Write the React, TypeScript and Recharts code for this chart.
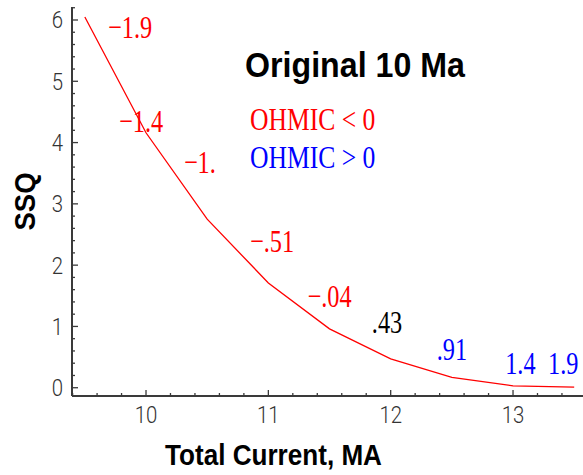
import React from "react";
import { ComposedChart, Line, Scatter, XAxis, YAxis } from "recharts";

// SSQ vs total current (every 0.5 MA)
const CURRENT = [9.5, 10, 10.5, 11, 11.5, 12, 12.5, 13, 13.5];
const SSQ = [6.05, 4.16, 2.75, 1.71, 0.96, 0.47, 0.17, 0.03, 0.01];

// OHMIC value annotations
const NOTE_TEXT = ["−1.9", "−1.4", "−1.", "−.51", "−.04", ".43", ".91", "1.4", "1.9"];
const NOTE_X = [9.87, 9.96, 10.44, 11.03, 11.5, 11.97, 12.5, 13.06, 13.41];
const NOTE_Y = [5.71, 4.18, 3.51, 2.22, 1.32, 0.9, 0.45, 0.22, 0.22];
const NOTE_COLOR = ["#ff0000", "#ff0000", "#ff0000", "#ff0000", "#ff0000", "#000000", "#0000ff", "#0000ff", "#0000ff"];

const X_TICKS = [9.4, 9.6, 9.8, 10, 10.2, 10.4, 10.6, 10.8, 11, 11.2, 11.4, 11.6, 11.8, 12, 12.2, 12.4, 12.6, 12.8, 13, 13.2, 13.4];
const Y_TICKS = [0, 0.2, 0.4, 0.6, 0.8, 1, 1.2, 1.4, 1.6, 1.8, 2, 2.2, 2.4, 2.6, 2.8, 3, 3.2, 3.4, 3.6, 3.8, 4, 4.2, 4.4, 4.6, 4.8, 5, 5.2, 5.4, 5.6, 5.8, 6, 6.2];

const curve = CURRENT.map((x, i) => ({ x, y: SSQ[i] }));
const notes = NOTE_TEXT.map((text, i) => ({ x: NOTE_X[i], y: NOTE_Y[i], text, color: NOTE_COLOR[i] }));

const AXIS = "#3a3a3a";
const TICK_FONT = "Roboto, 'Liberation Sans', sans-serif";
const SERIF = "'Liberation Serif', 'Times New Roman', serif";
const BOLD = "'Liberation Sans', Arial, sans-serif";

const isMajor = (v: number) => Math.abs(v - Math.round(v)) < 1e-6;

function BottomTick(props: any) {
  const { x, y, payload } = props;
  const major = isMajor(payload.value);
  return (
    <g>
      <line x1={x} y1={y} x2={x} y2={y - (major ? 6 : 3)} stroke={AXIS} strokeWidth={1.3} />
      {major && (
        <text transform={`translate(${x},${y + 27}) scale(0.85,1)`} textAnchor="middle"
          fontFamily={TICK_FONT} fontWeight={300} fontSize={24} fill="#333">{payload.value}</text>
      )}
    </g>
  );
}

function TopTick(props: any) {
  const { x, y, payload } = props;
  const major = isMajor(payload.value);
  return <line x1={x} y1={y} x2={x} y2={y + (major ? 6 : 3)} stroke={AXIS} strokeWidth={1.3} />;
}

function LeftTick(props: any) {
  const { x, y, payload } = props;
  const major = isMajor(payload.value);
  return (
    <g>
      <line x1={x} y1={y} x2={x + (major ? 6 : 3)} y2={y} stroke={AXIS} strokeWidth={1.3} />
      {major && (
        <text transform={`translate(${x - 9},${y + 8.5}) scale(0.85,1)`} textAnchor="end"
          fontFamily={TICK_FONT} fontWeight={300} fontSize={24} fill="#333">{payload.value}</text>
      )}
    </g>
  );
}

function NoteShape(props: any) {
  const { cx, cy } = props;
  const p = props.payload || props;
  return (
    <text transform={`translate(${cx},${cy}) scale(0.76,1)`} textAnchor="middle"
      fontFamily={SERIF} fontSize={32} fill={p.color}>{p.text}</text>
  );
}

export default function App() {
  return (
    <div style={{ position: "fixed", left: 0, top: 0, width: 583, height: 475, background: "#fff", overflow: "hidden" }}>
      <ComposedChart width={583} height={475} margin={{ top: 7, right: 0, bottom: 0, left: 0 }}>
        <XAxis xAxisId="b" dataKey="x" type="number" orientation="bottom" domain={[9.395, 13.572]} allowDataOverflow
          ticks={X_TICKS} interval={0} height={79} tickSize={0} tickMargin={0} tickLine={false}
          axisLine={{ stroke: AXIS, strokeWidth: 2 }} tick={<BottomTick />} />
        <XAxis xAxisId="t" dataKey="x" type="number" orientation="top" domain={[9.395, 13.572]} allowDataOverflow
          ticks={X_TICKS} interval={0} height={0} tickSize={0} tickMargin={0} tickLine={false}
          axisLine={{ stroke: AXIS, strokeWidth: 2 }} tick={<TopTick />} />
        <YAxis yAxisId="l" dataKey="y" type="number" domain={[-0.135, 6.212]} allowDataOverflow
          ticks={Y_TICKS} interval={0} width={72} tickSize={0} tickMargin={0} tickLine={false}
          axisLine={{ stroke: AXIS, strokeWidth: 2 }} tick={<LeftTick />} />
        <Line xAxisId="b" yAxisId="l" data={curve} dataKey="y" type="linear" stroke="#ff0000" strokeWidth={1.3}
          dot={false} isAnimationActive={false} />
        <Scatter xAxisId="b" yAxisId="l" data={notes} dataKey="y" shape={<NoteShape />} isAnimationActive={false} />
      </ComposedChart>
      <svg width={583} height={475} style={{ position: "absolute", left: 0, top: 0, pointerEvents: "none" }}>
        <text transform="translate(355,76.7) scale(0.92,1)" textAnchor="middle" fontFamily={BOLD} fontWeight="bold" fontSize={35} fill="#000">Original 10 Ma</text>
        <text transform="translate(250,130) scale(0.8,1)" fontFamily={SERIF} fontSize={32} fill="#ff0000">OHMIC {"<"} 0</text>
        <text transform="translate(250,168) scale(0.8,1)" fontFamily={SERIF} fontSize={32} fill="#0000ff">OHMIC {">"} 0</text>
        <text transform="translate(273.5,465) scale(0.9,1)" textAnchor="middle" fontFamily={BOLD} fontWeight="bold" fontSize={29} fill="#000">Total Current, MA</text>
        <text transform="translate(35,201.5) rotate(-90) scale(0.95,1)" textAnchor="middle" fontFamily={BOLD} fontWeight="bold" fontSize={29} fill="#000">SSQ</text>
      </svg>
    </div>
  );
}
